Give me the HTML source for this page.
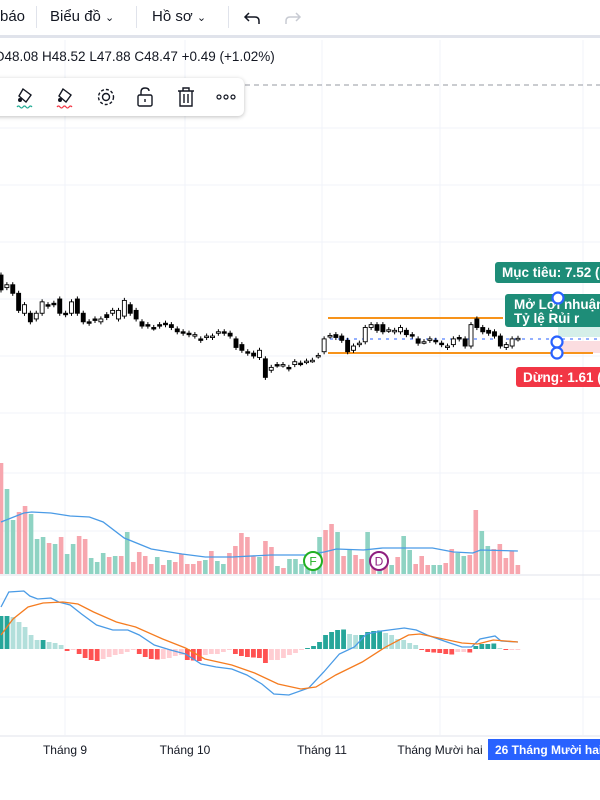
<!DOCTYPE html>
<html><head><meta charset="utf-8">
<style>
html,body{margin:0;padding:0;width:600px;height:800px;overflow:hidden;background:#fff;font-family:"Liberation Sans","DejaVu Sans",sans-serif;color:#131722}
.abs{position:absolute}
#topbar{position:absolute;left:0;top:0;width:600px;height:35px;background:#fff;border-bottom:3px solid #e0e3eb}
.tb{position:absolute;top:8px;font-size:15px;color:#131722}
.sep{position:absolute;top:6px;width:1px;height:22px;background:#e0e3eb}
#ohlc{position:absolute;left:-6px;top:49px;font-size:13.5px;white-space:nowrap}
#floatbar{position:absolute;left:-10px;top:78px;width:254px;height:38px;background:#fff;border-radius:6px;box-shadow:0 1px 4px rgba(0,0,0,.25)}
svg text{font-family:"Liberation Sans","DejaVu Sans",sans-serif}
</style></head>
<body>
<svg id="chart" class="abs" style="left:0;top:0" width="600" height="800"></svg>

<div id="topbar">
  <div class="tb" style="left:0">báo</div>
  <div class="sep" style="left:36px"></div>
  <div class="tb" style="left:50px">Biểu đồ <span style="font-size:11px">&#8964;</span></div>
  <div class="sep" style="left:136px"></div>
  <div class="tb" style="left:152px">Hồ sơ <span style="font-size:11px">&#8964;</span></div>
  <div class="sep" style="left:228px"></div>
  <svg class="abs" style="left:243px;top:8px" width="20" height="20"><path d="M6 5 L2 9 L6 13 M2 9 H12 Q16 9 16 13 V16" fill="none" stroke="#131722" stroke-width="1.5"/></svg>
  <svg class="abs" style="left:282px;top:8px" width="20" height="20"><path d="M14 5 L18 9 L14 13 M18 9 H8 Q4 9 4 13 V16" fill="none" stroke="#c8cbd3" stroke-width="1.5"/></svg>
</div>

<div id="ohlc">O48.08 H48.52 L47.88 C48.47 +0.49 (+1.02%)</div>

<div id="floatbar">
  <svg class="abs" style="left:24px;top:5px" width="28" height="28"><path d="M9 6 L17 12 L12 19 L5 13 Z" fill="none" stroke="#131722" stroke-width="1.4"/><circle cx="6" cy="17" r="2" fill="#131722"/><path d="M3 24 q1.5 -2 3 0 t3 0 t3 0 t3 0 t3 0" fill="none" stroke="#22ab94" stroke-width="1.2"/></svg>
  <svg class="abs" style="left:64px;top:5px" width="28" height="28"><path d="M9 6 L17 12 L12 19 L5 13 Z" fill="none" stroke="#131722" stroke-width="1.4"/><circle cx="6" cy="17" r="2" fill="#131722"/><path d="M3 24 q1.5 -2 3 0 t3 0 t3 0 t3 0 t3 0" fill="none" stroke="#f23645" stroke-width="1.2"/></svg>
  <svg class="abs" style="left:104px;top:7px" width="24" height="24"><circle cx="12" cy="12" r="3.5" fill="none" stroke="#131722" stroke-width="1.4"/><circle cx="12" cy="12" r="7.5" fill="none" stroke="#131722" stroke-width="1.4" stroke-dasharray="3 2"/></svg>
  <svg class="abs" style="left:145px;top:7px" width="22" height="24"><path d="M6 10 V7 Q6 3 10 3 Q14 3 14 6" fill="none" stroke="#131722" stroke-width="1.4"/><rect x="3" y="10" width="14" height="11" rx="1.5" fill="none" stroke="#131722" stroke-width="1.4"/><line x1="10" y1="14" x2="10" y2="17" stroke="#131722" stroke-width="1.4"/></svg>
  <svg class="abs" style="left:185px;top:7px" width="22" height="24"><path d="M3 6 H19 M8 6 V3 H14 V6 M5 6 V21 H17 V6 M9 9 V18 M13 9 V18" fill="none" stroke="#131722" stroke-width="1.4"/></svg>
  <svg class="abs" style="left:225px;top:12px" width="24" height="14"><circle cx="4" cy="7" r="2" fill="none" stroke="#131722" stroke-width="1.2"/><circle cx="11" cy="7" r="2" fill="none" stroke="#131722" stroke-width="1.2"/><circle cx="18" cy="7" r="2" fill="none" stroke="#131722" stroke-width="1.2"/></svg>
</div>

<script>
// ---- price data (candles) ----
const opens  = [50.84,50.4,50.5,50.2,49.5,49.5,49.3,49.5,49.8,49.85,50.0,49.5,49.5,50.0,49.5,49.2,49.3,49.2,49.45,49.5,49.3,49.4,49.8,49.6,49.2,49.1,49.0,49.1,49.15,49.1,48.95,48.85,48.8,48.7,48.6,48.65,48.65,48.8,48.85,48.8,48.6,48.4,48.15,48.1,47.95,47.9,47.5,47.7,47.68,47.6,47.7,47.75,47.8,47.85,48.0,48.15,48.7,48.75,48.7,48.55,48.2,48.4,48.5,49.0,49.1,49.1,48.9,48.85,48.85,48.9,48.75,48.6,48.5,48.55,48.55,48.45,48.3,48.4,48.65,48.6,48.35,49.3,49.0,48.9,48.85,48.7,48.3,48.35,48.6];
const closes = [50.32,50.5,50.2,49.6,49.8,49.2,49.5,49.9,49.75,49.8,49.5,49.45,49.9,49.5,49.2,49.15,49.25,49.3,49.35,49.6,49.6,49.95,49.5,49.3,49.05,49.05,48.98,49.05,49.1,49.0,48.85,48.8,48.75,48.75,48.55,48.7,48.7,48.85,48.8,48.7,48.3,48.2,48.1,48.0,48.2,47.25,47.6,47.68,47.7,47.55,47.8,47.73,47.82,47.85,48.02,48.6,48.72,48.65,48.55,48.15,48.35,48.45,49.0,49.1,48.9,48.85,48.92,48.9,49.0,48.75,48.7,48.45,48.5,48.6,48.5,48.4,48.35,48.6,48.6,48.35,49.1,49.0,48.85,48.8,48.7,48.35,48.4,48.6,48.62];
const wickPad = 0.09;
// ---- volume ----
const volumes = [111,85,54,62,68,60,35,37,31,30,37,20,30,38,35,16,12,21,17,18,18,42,12,22,18,10,17,9,14,12,20,10,10,13,14,23,13,10,21,28,41,37,18,17,33,27,8,6,15,15,10,6,11,37,44,50,42,18,25,19,15,42,11,21,11,9,17,38,24,10,18,9,9,9,11,25,21,18,19,64,43,28,25,30,16,23,9];
const volDir = "pttpptttptpttpptttptptpppptptppppptpttppppptpptpttttttpptptpptptptpttpppttppttppttppppptt";
const volMAIdx = [0,3.8,5.1,8.3,11.5,14.7,17,20.5,25,30.1,34,38.5,44.9,50.6,53.8,55.8,60.3,63.5,67.3,71.8,75.3,78.5,79.8,86];
const volMAVal = [52,61,62,61,58,57,52,36,25,20,17,17,19,19,22,25,24,26,26,26,22,21,24,23];
// ---- MACD ----
const macdHist = [3.3,3.3,3.2,2.7,2.2,1.4,0.9,0.9,0.7,0.6,0.4,-0.2,-0.1,-0.5,-0.9,-1.1,-1.2,-1.0,-0.8,-0.6,-0.5,-0.3,-0.1,-0.5,-0.8,-1.0,-1.05,-1.0,-0.9,-0.7,-0.6,-1.1,-1.15,-1.2,-0.6,-0.5,-0.5,-0.3,-0.1,-0.5,-0.7,-0.8,-0.85,-0.9,-1.4,-1.1,-1.1,-0.9,-0.6,-0.4,-0.1,0.1,0.3,0.7,1.4,1.7,1.9,1.95,1.5,1.4,1.4,1.7,1.8,1.85,1.6,1.4,1.0,0.9,0.6,0.4,-0.1,-0.3,-0.35,-0.4,-0.5,-0.55,-0.3,-0.3,-0.35,0.3,0.5,0.5,0.55,0.1,-0.1,-0.05,-0.05];
const macdIdx = [0,1.3,3.8,4.8,6.1,8.3,9.6,11.5,13.4,15.9,18.6,21.1,23,25.5,28.2,30.7,33.3,35.8,38.4,40.9,43.4,45.4,47.9,51.2,53.7,56.3,58.8,60.8,63.3,67.1,69.1,70.9,74.2,76.7,78.3,79.7,82.2,83.2,86];
const macdVal = [4.2,5.7,5.8,5.3,5.0,5.1,4.7,4.4,3.5,2.4,1.9,1.9,1.4,0.4,-0.1,-0.5,-1.5,-1.8,-2.0,-2.6,-3.5,-4.5,-4.6,-3.9,-2.3,-0.5,0.2,1.5,1.8,2.1,1.9,1.4,0.7,0.2,0.2,1.0,1.3,0.8,0.7];
const sigIdx = [0,2.0,4.5,7.0,10.3,12.8,15.4,19.2,22.4,26.9,30.7,33.9,38.4,42.2,46.1,49.9,52.4,55.7,60.1,64,67.8,69.7,73.6,76.7,79.3,81.9,86];
const sigVal = [1.4,3.0,4.2,4.6,4.7,4.5,3.7,2.7,2.2,1.0,0.1,-1.0,-1.6,-2.4,-3.5,-4.0,-3.8,-2.6,-1.3,0.2,1.4,1.5,1.0,0.6,0.5,0.9,0.7];
// ---- axis labels ----
const timeLabels = ["Tháng 9","Tháng 10","Tháng 11","Tháng Mười hai"];
const timeLabelX = [65,185,322,440];

const NS="http://www.w3.org/2000/svg";
const svg=document.getElementById('chart');
function mk(tag,attrs,parent){const e=document.createElementNS(NS,tag);for(const k in attrs)e.setAttribute(k,attrs[k]);(parent||svg).appendChild(e);return e;}

const xC = i => 1 + i*5.875;
const yP = p => 356 - (p-48)*28.5;
const xV = i => 1 + i*6.01;
const yVol = v => 574 - v;
const yM = v => 649 - v*10;

[128,185,242,299,356,413,473,531,599,697].forEach(y=>{const l=mk('line',{x1:0,x2:600,y1:y,y2:y,stroke:'#f0f3fa','stroke-width':1});

});
[65,185,322,440,583].forEach(x=>{const l=mk('line',{x1:x,x2:x,y1:40,y2:735,stroke:'#f0f3fa','stroke-width':1});

});
const sep1=mk('line',{x1:0,x2:600,y1:575,y2:575,stroke:'#e0e3eb','stroke-width':1});


const dash=mk('line',{x1:245,x2:600,y1:85,y2:85,stroke:'#9598a1','stroke-width':1,'stroke-dasharray':'5 4'});



const gz=mk('rect',{x:558,y:318,width:42,height:19,fill:'#d5efe9'});


const rz=mk('rect',{x:558,y:341,width:42,height:12,fill:'#fbdde0'});


const ol1=mk('line',{x1:328,x2:503,y1:318,y2:318,stroke:'#f7931a','stroke-width':2});


const ol2=mk('line',{x1:328,x2:593,y1:353,y2:353,stroke:'#f7931a','stroke-width':2});


const el=mk('line',{x1:330,x2:600,y1:339,y2:339,stroke:'#2962ff','stroke-width':1,'stroke-dasharray':'3 5'});



opens.forEach((o,i)=>{const c=closes[i];const x=xC(i);const hi=Math.max(o,c)+wickPad, lo=Math.min(o,c)-wickPad;
const g=mk('g',{});


mk('line',{x1:x,x2:x,y1:yP(hi),y2:yP(lo),stroke:'#000','stroke-width':1},g);
const top=yP(Math.max(o,c)),h=Math.max(1.5,yP(Math.min(o,c))-top);
mk('rect',{x:x-2,y:top,width:4,height:h,fill:c>=o?'#fff':'#000',stroke:'#000','stroke-width':0.9},g);});

volumes.forEach((v,i)=>{const r=mk('rect',{x:xV(i)-2.3,y:yVol(v),width:4.6,height:v,fill:volDir[i]==='t'?'#8fd3c3':'#f7a6ae'});

});
const vma=mk('polyline',{points:volMAIdx.map((d,i)=>xV(d)+','+yVol(volMAVal[i])).join(' '),fill:'none',stroke:'#4a9be6','stroke-width':1.3});



[[313,'F','#22b022'],[379,'D','#8e1f7f']].forEach(([x,t,c])=>{const g=mk('g',{});


mk('circle',{cx:x,cy:561,r:9,fill:'#fff',stroke:c,'stroke-width':2},g);
const tx=mk('text',{x:x,y:565.5,'text-anchor':'middle','font-size':12,fill:c},g);tx.textContent=t;});

macdHist.forEach((v,i)=>{const p=i?macdHist[i-1]:v;let col;
if(v>=0)col=v>=p?'#26a69a':'#b2dfdb';else col=v<p?'#ff5252':'#ffcdd2';
const y0=yM(0),y1=yM(v);const r=mk('rect',{x:xV(i)-2.4,y:Math.min(y0,y1),width:4.8,height:Math.max(1,Math.abs(y1-y0)),fill:col});

});
const ml=mk('polyline',{points:macdIdx.map((d,i)=>xV(d)+','+yM(macdVal[i])).join(' '),fill:'none',stroke:'#4a9be6','stroke-width':1.3});


const sl=mk('polyline',{points:sigIdx.map((d,i)=>xV(d)+','+yM(sigVal[i])).join(' '),fill:'none',stroke:'#f57c20','stroke-width':1.3});



function label(x,y,w,h,fill,lines,name){const g=mk('g',{});


mk('rect',{x:x,y:y,width:w,height:h,rx:3,fill:fill},g);
lines.forEach((s,k)=>{const t=mk('text',{x:x+(lines.length>1?9:7),y:y+(lines.length>1?15:15)+k*14,'font-size':13.5,'font-weight':'bold',fill:'#fff'},g);t.textContent=s;});}
label(495,262,120,21,'#1e8d78',['Mục tiêu: 7.52 (14'],'target-label');
label(505,294,120,33,'#1e8d78',['Mở Lợi nhuận 8','  Tỷ lệ Rủi r'],'open-pnl-label');
label(516,367,110,20,'#f23645',['Dừng: 1.61 (3'],'stop-label');

[[558,298],[557,342],[557,353]].forEach(([x,y])=>{const c=mk('circle',{cx:x,cy:y,r:5.5,fill:'#fff',stroke:'#2962ff','stroke-width':2.2});

});

const ax=mk('line',{x1:0,x2:600,y1:736,y2:736,stroke:'#e0e3eb','stroke-width':1});


timeLabels.forEach((s,i)=>{const t=mk('text',{x:timeLabelX[i],y:754,'text-anchor':'middle','font-size':12,fill:'#131722'});


t.textContent=s;});
const cb=mk('g',{});


mk('rect',{x:488,y:739,width:112,height:21,fill:'#2962ff'},cb);
const ct=mk('text',{x:495,y:754,'font-size':12,'font-weight':'bold',fill:'#fff'},cb);ct.textContent='26 Tháng Mười hai';
</script>
</body></html>
